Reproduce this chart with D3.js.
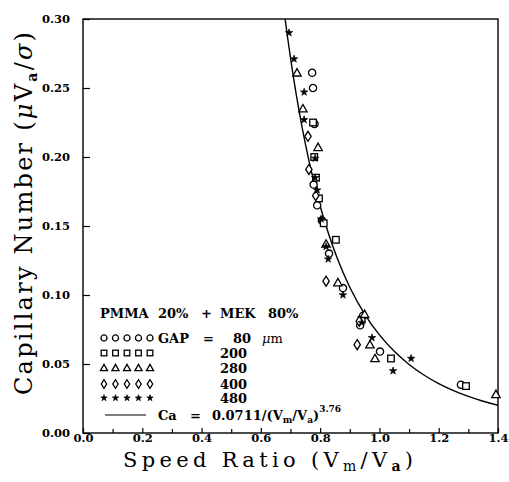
<!DOCTYPE html>
<html><head><meta charset="utf-8">
<script src="https://cdn.jsdelivr.net/npm/d3@7"></script>
<style>body{margin:0;background:#fff}svg{display:block}</style>
</head><body>
<script>
// ---- data ----
const gap80 = [[0.773,0.261],[0.776,0.250],[0.781,0.224],[0.790,0.165],[0.806,0.154],[0.778,0.180],[0.830,0.130],[0.877,0.105],[0.945,0.085],[0.935,0.078],[1.002,0.059],[1.275,0.035]];
const gap200 = [[0.776,0.225],[0.780,0.200],[0.786,0.185],[0.796,0.170],[0.812,0.152],[0.853,0.140],[0.940,0.082],[1.039,0.054],[1.292,0.034]];
const gap280 = [[0.722,0.261],[0.742,0.235],[0.793,0.207],[0.820,0.137],[0.860,0.109],[0.950,0.086],[0.968,0.064],[0.985,0.054],[1.393,0.028]];
const gap400 = [[0.759,0.215],[0.762,0.191],[0.785,0.172],[0.820,0.110],[0.932,0.081],[0.925,0.064]];
const gap480 = [[0.695,0.290],[0.712,0.271],[0.746,0.247],[0.746,0.227],[0.783,0.199],[0.783,0.185],[0.790,0.176],[0.803,0.155],[0.820,0.135],[0.827,0.126],[0.877,0.100],[0.940,0.080],[0.975,0.069],[1.107,0.054],[1.046,0.045]];
const gapLabels = ["80","200","280","400","480"];
const fitCoef = 0.0711, fitExp = 3.76;   // Ca = 0.0711/(Vm/Va)^3.76 (from legend)
const fitX = [0.682,0.69,0.70,0.72,0.74,0.76,0.78,0.80,0.83,0.86,0.90,0.95,1.00,1.05,1.10,1.15,1.20,1.25,1.30,1.35,1.40];
const xTicks = [0,0.2,0.4,0.6,0.8,1.0,1.2,1.4];
const xMinor = [0.1,0.3,0.5,0.7,0.9,1.1,1.3];
const yTicks = [0,0.05,0.10,0.15,0.20,0.25,0.30];

// ---- layout ----
const W=509,H=482, L=83,R=498,T=19,B=433;
const svg=d3.select("body").append("svg").attr("width",W).attr("height",H);
const x=d3.scaleLinear().domain([0,1.4]).range([L,R]);
const y=d3.scaleLinear().domain([0,0.30]).range([B,T]);
const tickFont="DejaVu Serif";

// frame
svg.append("rect").attr("x",L).attr("y",T).attr("width",R-L).attr("height",B-T)
  .attr("fill","none").attr("stroke","#000").attr("stroke-width",1.4);

// x axis
svg.append("g").attr("transform",`translate(0,${B})`)
  .call(d3.axisBottom(x).tickValues(xTicks).tickSize(-5).tickPadding(1).tickFormat(d3.format(".1f")));
svg.append("g").attr("transform",`translate(0,${B})`)
  .call(d3.axisBottom(x).tickValues(xMinor).tickSize(-4).tickFormat(""));
// y axis
svg.append("g").attr("transform",`translate(${L},0)`)
  .call(d3.axisLeft(y).tickValues(yTicks).tickSize(-7).tickPadding(13).tickFormat(d3.format(".2f")));
svg.selectAll(".domain").remove();
svg.selectAll(".tick line").attr("stroke","#000").attr("stroke-width",1.2);
svg.selectAll(".tick text").attr("font-family",tickFont).attr("font-weight","bold").attr("font-size",11.5).attr("fill","#000");

// axis titles
const xt=svg.append("text").attr("x",123).attr("y",467).attr("font-family","DejaVu Serif").attr("font-size",21)
  .attr("textLength",290).attr("lengthAdjust","spacing");
xt.append("tspan").text("Speed Ratio (V");
xt.append("tspan").attr("font-size",14).attr("dy",4).text("m");
xt.append("tspan").attr("dy",-4).text("/V");
xt.append("tspan").attr("font-size",14).attr("dy",4).attr("font-weight","bold").text("a");
xt.append("tspan").attr("dy",-4).text(")");

const yt=svg.append("text").attr("transform",`translate(32,${395}) rotate(-90)`).attr("x",0).attr("y",0)
  .attr("font-family","DejaVu Serif").attr("font-size",24).attr("textLength",363).attr("lengthAdjust","spacing");
yt.append("tspan").text("Capillary Number (");
yt.append("tspan").attr("font-style","italic").text("μ");
yt.append("tspan").text("V");
yt.append("tspan").attr("font-size",14).attr("dy",5).attr("font-weight","bold").text("a");
yt.append("tspan").attr("dy",-5).text("/");
yt.append("tspan").attr("font-style","italic").text("σ");
yt.append("tspan").text(")");

// clip
svg.append("clipPath").attr("id","clip").append("rect").attr("x",L).attr("y",T).attr("width",R-L).attr("height",B-T);

// fit curve
const line=d3.line().x(d=>x(d)).y(d=>y(fitCoef/Math.pow(d,fitExp))).curve(d3.curveMonotoneX);
svg.append("path").datum(fitX).attr("d",line).attr("fill","none").attr("stroke","#000").attr("stroke-width",1.4).attr("clip-path","url(#clip)");

// markers
const sym={
  circle:(g,s)=>g.append("circle").attr("r",3.6*s).attr("fill","#fff").attr("stroke","#000").attr("stroke-width",1.3),
  square:(g,s)=>g.append("rect").attr("x",-3.3*s).attr("y",-3.3*s).attr("width",6.6*s).attr("height",6.6*s).attr("fill","#fff").attr("stroke","#000").attr("stroke-width",1.3),
  triangle:(g,s)=>g.append("path").attr("d",`M0,${-4.2*s}L${4.2*s},${3.2*s}L${-4.2*s},${3.2*s}Z`).attr("fill","#fff").attr("stroke","#000").attr("stroke-width",1.3),
  diamond:(g,s)=>g.append("path").attr("d",`M0,${-5*s}L${3.2*s},0L0,${5*s}L${-3.2*s},0Z`).attr("fill","#fff").attr("stroke","#000").attr("stroke-width",1.3),
  star:(g,s)=>g.append("path").attr("d",d3.symbol(d3.symbolStar,17*s*s)()).attr("fill","#000").attr("stroke","#000").attr("stroke-width",0.7)
};
const series=[["circle",gap80],["square",gap200],["triangle",gap280],["diamond",gap400],["star",gap480]];
series.forEach(([k,data])=>{
  data.forEach(d=>{
    const g=svg.append("g").attr("transform",`translate(${x(d[0])},${y(d[1])})`);
    sym[k](g,1);
  });
});

// legend
const lf={"font-family":"DejaVu Serif","font-weight":"bold","font-size":13};
function txt(px,py,s){const t=svg.append("text").attr("x",px).attr("y",py);Object.entries(lf).forEach(([a,v])=>t.attr(a,v));t.text(s);return t;}
txt(100,318,"PMMA"); txt(158,318,"20%"); txt(201,318,"+"); txt(220,318,"MEK"); txt(268,318,"80%");
const rowY=[338,353,368,384,398];
series.forEach(([k],i)=>{
  for(let j=0;j<5;j++){
    const g=svg.append("g").attr("transform",`translate(${104+j*11.5},${rowY[i]})`);
    sym[k](g,0.85);
  }
});
txt(158,rowY[0]+5,"GAP"); txt(203,rowY[0]+5,"=");
gapLabels.forEach((s,i)=>{ txt(i===0?233:220,rowY[i]+5,s); });
const mu=txt(262,rowY[0]+5,""); mu.append("tspan").attr("font-style","italic").attr("font-weight","normal").text("μ"); mu.append("tspan").attr("font-weight","normal").text("m");
svg.append("line").attr("x1",105).attr("x2",146).attr("y1",415).attr("y2",415).attr("stroke","#000").attr("stroke-width",1.2);
txt(158,420,"Ca"); txt(190,420,"=");
const ct=txt(212,420,"0.0711/(V");
ct.append("tspan").attr("font-size",9).attr("dy",3).text("m");
ct.append("tspan").attr("dy",-3).text("/V");
ct.append("tspan").attr("font-size",9).attr("dy",3).text("a");
ct.append("tspan").attr("dy",-3).text(")");
ct.append("tspan").attr("font-size",9).attr("dy",-8).text("3.76");
</script>
</body></html>
